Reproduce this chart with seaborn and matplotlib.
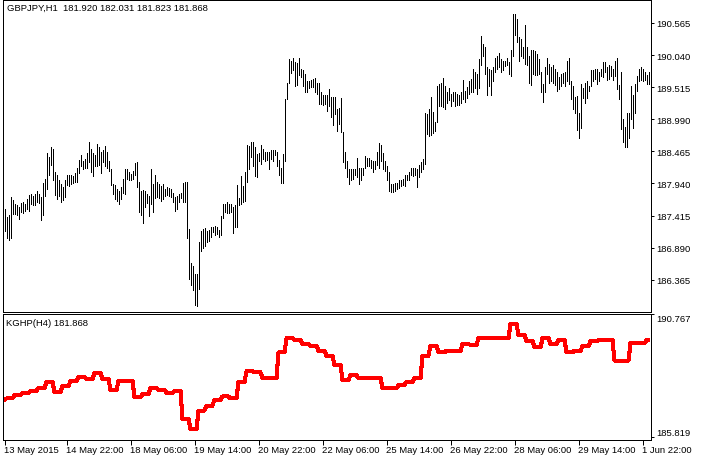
import numpy as np
import pandas as pd
import matplotlib
matplotlib.use("Agg")
import matplotlib.pyplot as plt
import seaborn as sns

sns.set_style("white")
plt.rcParams['font.family'] = ['Liberation Sans', 'DejaVu Sans']

# ---------------- data ----------------
header_text = "GBPJPY,H1  181.920 182.031 181.823 181.868"
indicator_text = "KGHP(H4) 181.868"

bar_high = [
    187.52, 187.39, 187.42, 187.71, 187.67, 187.60, 187.59, 187.55, 187.62, 187.64,
    187.60, 187.69, 187.75, 187.77, 187.74, 187.77, 187.81, 187.77, 187.71, 187.95,
    188.01, 188.44, 188.37, 188.53, 188.50, 188.12, 188.07, 187.99, 187.93, 187.88,
    187.99, 188.07, 188.08, 188.07, 188.06, 188.11, 188.19, 188.33, 188.41, 188.31,
    188.34, 188.44, 188.61, 188.50, 188.44, 188.41, 188.59, 188.53, 188.46, 188.48,
    188.55, 188.46, 188.30, 188.17, 187.93, 187.91, 187.85, 187.81, 187.88, 188.02,
    188.17, 188.18, 188.12, 188.09, 188.15, 188.27, 188.29, 187.96, 187.82, 187.84,
    187.82, 187.77, 187.74, 188.18, 187.93, 188.07, 187.97, 187.93,
    187.90, 187.93, 187.85, 187.88, 187.86, 187.85, 187.78, 187.71, 187.74, 187.77,
    187.79, 187.95, 187.96, 187.96, 187.19, 186.64, 186.59, 186.46, 186.46, 186.99,
    187.17, 187.19, 187.21, 187.17, 187.18, 187.22, 187.22, 187.25, 187.22, 187.18,
    187.41, 187.60, 187.60, 187.64, 187.60, 187.60, 187.55, 187.58, 187.91, 187.70,
    188.06, 187.89, 188.13, 188.57, 188.56, 188.61, 188.61, 188.53, 188.42, 188.44,
    188.57, 188.51, 188.45, 188.45, 188.45, 188.49, 188.49, 188.49, 188.45, 188.33,
    188.20, 188.42, 189.32, 189.59, 189.97, 189.95, 190.00, 189.93, 189.91, 189.99,
    189.82, 189.79, 189.73, 189.62, 189.62, 189.64, 189.65, 189.66, 189.58, 189.58,
    189.43, 189.39, 189.39,
    189.39, 189.49, 189.35, 189.35, 189.35, 189.15, 189.17, 189.33, 188.78, 188.46,
    188.31, 188.18, 188.18, 188.18, 188.18, 188.35, 188.20, 188.20, 188.20, 188.39,
    188.35, 188.35, 188.33, 188.31, 188.31, 188.45, 188.60, 188.57, 188.44, 188.30,
    188.23, 188.12, 187.93, 187.93, 187.95, 187.95, 188.00, 187.99, 188.02, 188.07,
    188.07, 188.13, 188.20, 188.20, 188.20, 188.18, 188.24, 188.29, 188.34, 189.09,
    189.08, 189.16, 189.35, 189.11, 188.95, 189.54, 189.57, 189.59, 189.66, 189.54,
    189.43, 189.50, 189.40, 189.43, 189.43, 189.40, 189.39, 189.44, 189.64, 189.46,
    189.51, 189.62, 189.65, 189.81, 189.76, 189.73, 189.98, 190.36, 190.22, 190.17,
    189.84, 189.81, 189.79, 189.84, 190.00, 190.03, 190.07, 189.98, 189.95, 189.95,
    189.99, 189.92, 190.13, 190.71, 190.71, 190.63, 190.33, 190.30, 190.17, 190.53,
    190.17, 190.03, 190.13, 190.13, 190.11, 190.06, 189.98, 189.76, 189.57, 189.84,
    189.99, 189.89, 189.84, 189.87, 189.82, 189.76, 189.68, 189.73, 189.75, 189.76,
    189.95, 190.00, 189.62, 189.53, 189.35, 189.37, 189.09, 189.57, 189.50, 189.58,
    189.62, 189.54, 189.79, 189.79, 189.82, 189.82, 189.77, 189.82, 189.93, 189.93,
    189.84, 189.88, 189.86, 189.81, 189.95, 189.99, 189.55, 189.76, 188.99, 188.86,
    189.10, 189.10, 189.54, 189.39, 189.57, 189.70, 189.81, 189.84, 189.81, 189.77,
    189.71, 189.76,
]

bar_low = [
    187.17, 187.04, 187.02, 187.05, 187.44, 187.44, 187.42, 187.36, 187.48, 187.46,
    187.49, 187.52, 187.49, 187.60, 187.58, 187.59, 187.63, 187.62, 187.35, 187.42,
    187.74, 187.85, 188.08, 188.24, 187.99, 187.75, 187.69, 187.74, 187.64, 187.67,
    187.71, 187.91, 187.89, 187.93, 187.95, 187.96, 187.97, 188.11, 188.22, 188.17,
    188.20, 188.19, 188.29, 188.13, 188.06, 188.22, 188.23, 188.24, 188.11, 188.29,
    188.22, 188.20, 188.15, 187.91, 187.77, 187.69, 187.66, 187.60, 187.69, 187.79,
    187.77, 188.01, 188.00, 187.99, 188.01, 188.07, 187.88, 187.48, 187.42, 187.29,
    187.55, 187.62, 187.41, 187.60, 187.47, 187.70, 187.71, 187.70,
    187.66, 187.69, 187.74, 187.75, 187.73, 187.71, 187.64, 187.49, 187.52, 187.63,
    187.70, 187.63, 187.63, 187.04, 186.38, 186.28, 186.20, 185.95, 185.94, 186.22,
    186.84, 186.88, 186.92, 186.99, 187.00, 187.06, 187.14, 187.09, 187.11, 187.07,
    187.10, 187.37, 187.47, 187.46, 187.46, 187.47, 187.13, 187.22, 187.22, 187.59,
    187.60, 187.64, 187.66, 187.96, 188.18, 188.37, 188.22, 188.06, 188.04, 188.31,
    188.26, 188.34, 188.31, 188.33, 188.17, 188.34, 188.30, 188.41, 188.23, 188.08,
    187.95, 187.95, 188.30, 189.32, 189.59, 189.75, 189.79, 189.54, 189.55, 189.71,
    189.68, 189.54, 189.44, 189.44, 189.50, 189.51, 189.51, 189.44, 189.40, 189.24,
    189.24, 189.22, 189.24,
    189.13, 189.21, 189.02, 188.89, 189.08, 188.80, 188.91, 188.78, 188.29, 188.20,
    188.04, 187.93, 187.99, 188.02, 188.07, 188.04, 187.93, 187.99, 188.07, 188.20,
    188.23, 188.23, 188.20, 188.13, 188.18, 188.24, 188.19, 188.30, 188.18, 188.15,
    187.99, 187.82, 187.80, 187.80, 187.81, 187.85, 187.86, 187.90, 187.92, 187.90,
    187.99, 188.00, 188.07, 188.06, 188.07, 187.88, 188.04, 188.13, 188.18, 188.26,
    188.75, 188.72, 188.73, 188.77, 188.80, 188.95, 189.20, 189.20, 189.19, 189.16,
    189.26, 189.31, 189.21, 189.29, 189.21, 189.22, 189.22, 189.26, 189.32, 189.28,
    189.33, 189.40, 189.43, 189.44, 189.50, 189.40, 189.50, 189.88, 190.03, 189.73,
    189.39, 189.54, 189.38, 189.62, 189.76, 189.81, 189.84, 189.76, 189.79, 189.86,
    189.87, 189.73, 189.70, 190.03, 190.37, 190.26, 189.95, 190.03, 189.99, 189.89,
    189.87, 189.59, 189.55, 189.73, 189.71, 189.71, 189.73, 189.43, 189.28, 189.43,
    189.73, 189.59, 189.62, 189.58, 189.55, 189.46, 189.49, 189.54, 189.59, 189.54,
    189.61, 189.57, 189.32, 189.16, 189.10, 188.82, 188.69, 188.84, 189.33, 189.26,
    189.33, 189.46, 189.53, 189.61, 189.65, 189.57, 189.62, 189.70, 189.68, 189.76,
    189.64, 189.65, 189.70, 189.64, 189.70, 189.49, 189.32, 188.83, 188.62, 188.53,
    188.53, 188.69, 189.00, 188.84, 189.09, 189.46, 189.61, 189.64, 189.61, 189.64,
    189.57, 189.57,
]

# KGHP computed on H4: one value per H4 bar, shown on every H1 bar it covers
kghp_h4 = [
    187.32, 187.37, 187.51, 187.59, 187.67, 187.80, 188.02, 187.64, 187.86, 188.08,
    188.22, 188.15, 188.39, 188.15, 187.72, 188.07, 188.07, 187.41, 187.54, 187.78,
    187.71, 187.59, 187.67, 186.54, 186.14, 186.88, 187.08, 187.32, 187.45, 187.37,
    188.04, 188.46, 188.42, 188.19, 188.19, 189.22, 189.79, 189.73, 189.56, 189.49,
    189.29, 189.09, 188.72, 188.12, 188.31, 188.19, 188.19, 188.19, 187.78, 187.78,
    187.91, 188.04, 188.18, 189.09, 189.49, 189.22, 189.29, 189.29, 189.56, 189.52,
    189.79, 189.79, 189.79, 189.81, 190.36, 189.92, 189.69, 189.43, 189.79, 189.56,
    189.73, 189.22, 189.29, 189.47, 189.67, 189.72, 189.72, 188.89, 188.89, 189.60,
    189.60, 189.72,
]
kghp_h1_per_h4 = [1] + [4] * 80 + [2]

price_ticks = [190.565, 190.040, 189.515, 188.990, 188.465,
               187.940, 187.415, 186.890, 186.365]
kghp_scale = [190.767, 185.819]

time_labels = ["13 May 2015", "14 May 22:00", "18 May 06:00", "19 May 14:00",
               "20 May 22:00", "22 May 06:00", "25 May 14:00", "26 May 22:00",
               "28 May 06:00", "29 May 14:00", "1 Jun 22:00"]
time_label_bars = [0, 31, 63, 95, 127, 159, 191, 223, 255, 287, 319]

# ---------------- figure ----------------
W, H = 702, 460
fig = plt.figure(figsize=(W / 100, H / 100), dpi=100, facecolor="white")


def px_axes(left, top, right, bottom):
    return fig.add_axes([left / W, 1 - bottom / H, (right - left) / W, (bottom - top) / H])


ax1 = px_axes(2.5, 0.5, 650.5, 312.5)
ax2 = px_axes(2.5, 314.5, 650.5, 440.5)

n = len(bar_high)
bars = pd.DataFrame({"bar": np.arange(n), "high": bar_high, "low": bar_low})
ax1.vlines(bars["bar"], bars["low"], bars["high"], colors="black",
           linewidth=0.72, antialiased=False)

kghp = np.repeat(kghp_h4, kghp_h1_per_h4)
ind = pd.DataFrame({"bar": np.arange(len(kghp)), "kghp": kghp})
sns.lineplot(data=ind, x="bar", y="kghp", ax=ax2, color="#FF0000",
             linewidth=2.2, legend=False, antialiased=False)

for ax in (ax1, ax2):
    ax.set_xlim(-1, 323)
    ax.set_facecolor("white")
    for s in ax.spines.values():
        s.set_color("black")
        s.set_linewidth(0.72)
    ax.yaxis.tick_right()
    ax.set_xlabel("")
    ax.set_ylabel("")
    ax.grid(False)

fs = 6.8
ax1.set_ylim(185.845, 190.949)
ax1.set_yticks(price_ticks)
ax1.set_yticklabels([f"{v:.3f}" for v in price_ticks])
ax1.tick_params(axis="y", direction="out", length=2.2, width=0.72, pad=2,
                labelsize=fs, colors="black", right=True, left=False)
ax1.set_xticks([])

ax2.set_ylim(185.718, 190.787)
ax2.set_yticks(kghp_scale)
ax2.set_yticklabels([f"{v:.3f}" for v in kghp_scale])
ax2.tick_params(axis="y", direction="out", length=2.2, width=0.72, pad=2,
                labelsize=fs, colors="black", right=True, left=False)
ylabs = ax2.get_yticklabels()
ylabs[0].set_va("top")
ylabs[1].set_va("bottom")

ax2.set_xticks(time_label_bars)
ax2.set_xticklabels(time_labels, ha="left")
ax2.tick_params(axis="x", direction="out", length=3.6, width=0.72, pad=0.5,
                labelsize=fs, colors="black", bottom=True)

fig.text(7 / W, 1 - 8 / H, header_text, fontsize=fs, va="center", ha="left", color="black")
fig.text(6 / W, 1 - 323 / H, indicator_text, fontsize=fs, va="center", ha="left", color="black")

fig.savefig("out.png", dpi=100, facecolor="white")
